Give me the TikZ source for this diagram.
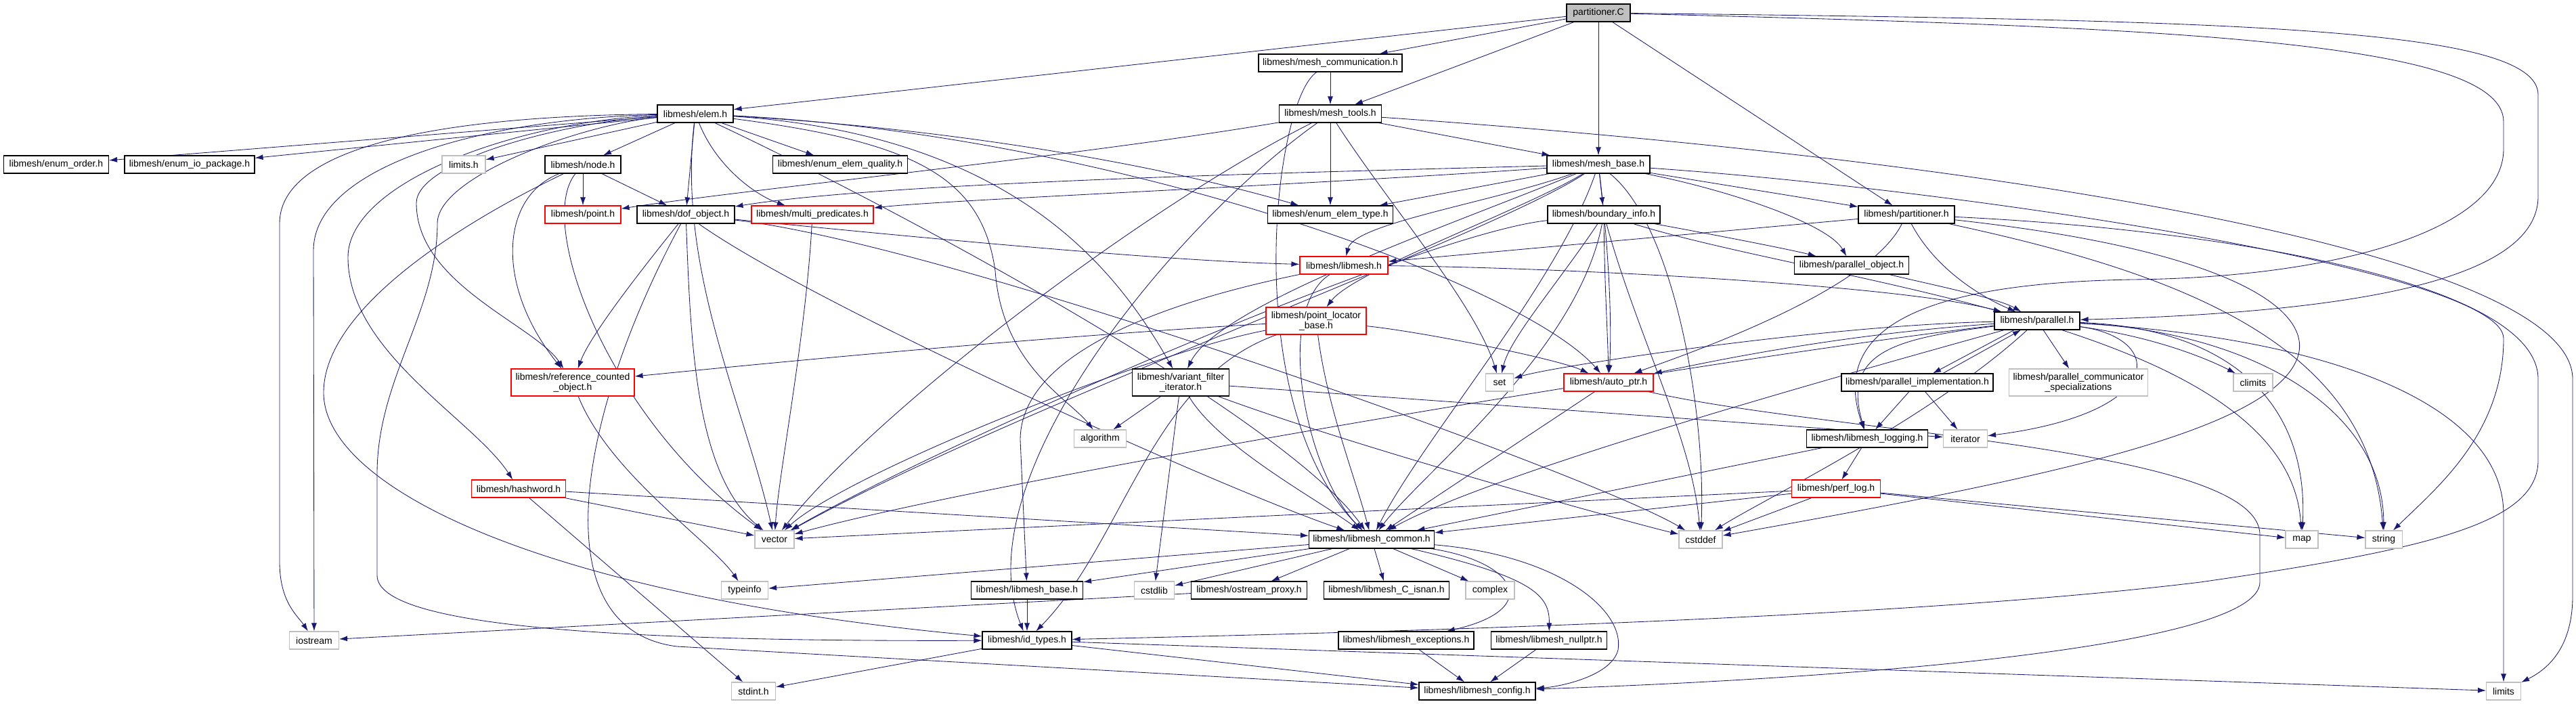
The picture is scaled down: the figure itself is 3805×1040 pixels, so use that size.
\documentclass[tikz,border=0pt]{standalone}
\usepackage{fontspec}
\setmainfont{Liberation Sans}
\usetikzlibrary{arrows.meta,backgrounds}
\definecolor{edgec}{HTML}{191970}
\definecolor{gbord}{HTML}{BFBFBF}
\definecolor{rootf}{HTML}{BFBFBF}
\begin{document}
\begin{tikzpicture}[x=1pt,y=-1pt,
  nb/.style={draw=black, line width=1.1pt, fill=white, inner sep=0pt, minimum height=26pt, font=\fontsize{14}{15}\selectfont, text=black},
  rb/.style={nb, draw=red},
  gb/.style={nb, draw=gbord, line width=1.1pt},
  tb/.style={minimum height=40pt, align=center},
  edge/.style={draw=edgec, line width=0.85pt, -{Latex[length=12pt,width=8pt]}}]
\useasboundingbox (0,0) rectangle (3805,1040);
% nodes
\node[nb, fill=rootf, minimum width=94pt] (pc) at (2361,19) {partitioner.C};
\node[nb, minimum width=212pt] (mc) at (1965,93) {libmesh/mesh\_communication.h};
\node[nb, minimum width=112pt] (el) at (1027,168) {libmesh/elem.h};
\node[nb, minimum width=151pt] (mt) at (1965,168) {libmesh/mesh\_tools.h};
\node[nb, minimum width=155pt] (eo) at (83,243) {libmesh/enum\_order.h};
\node[nb, minimum width=192pt] (eio) at (280,243) {libmesh/enum\_io\_package.h};
\node[gb, minimum width=64pt] (limh) at (685,243) {limits.h};
\node[nb, minimum width=112pt] (nd) at (861,243) {libmesh/node.h};
\node[nb, minimum width=199pt] (eeq) at (1241,243) {libmesh/enum\_elem\_quality.h};
\node[nb, minimum width=152pt] (mb) at (2361,243) {libmesh/mesh\_base.h};
\node[rb, minimum width=112pt] (pt) at (861,317) {libmesh/point.h};
\node[nb, minimum width=144pt] (dof) at (1013,317) {libmesh/dof\_object.h};
\node[rb, minimum width=180pt] (mp) at (1200,317) {libmesh/multi\_predicates.h};
\node[nb, minimum width=185pt] (eet) at (1965,317) {libmesh/enum\_elem\_type.h};
\node[nb, minimum width=166pt] (bi) at (2369,317) {libmesh/boundary\_info.h};
\node[nb, minimum width=142pt] (ph) at (2816,317) {libmesh/partitioner.h};
\node[rb, minimum width=130pt] (lm) at (1985,392) {libmesh/libmesh.h};
\node[nb, minimum width=169pt] (po) at (2735,392) {libmesh/parallel\_object.h};
\node[rb, tb, minimum width=148pt] (plb) at (1944,474) {libmesh/point\_locator\\\_base.h};
\node[nb, minimum width=126pt] (par) at (3009,474) {libmesh/parallel.h};
\node[rb, tb, minimum width=182pt] (rco) at (846,565) {libmesh/reference\_counted\\\_object.h};
\node[nb, tb, minimum width=143pt] (vfi) at (1744,565) {libmesh/variant\_filter\\\_iterator.h};
\node[gb, minimum width=41pt] (set) at (2215,565) {set};
\node[rb, minimum width=132pt] (ap) at (2376,565) {libmesh/auto\_ptr.h};
\node[nb, minimum width=224pt] (pimpl) at (2832,565) {libmesh/parallel\_implementation.h};
\node[gb, tb, minimum width=205pt] (pcs) at (3070,565) {libmesh/parallel\_communicator\\\_specializations};
\node[gb, minimum width=58pt] (climits) at (3328,565) {climits};
\node[gb, minimum width=77pt] (alg) at (1625,648) {algorithm};
\node[nb, minimum width=179pt] (log) at (2758,648) {libmesh/libmesh\_logging.h};
\node[gb, minimum width=65pt] (iter) at (2903,648) {iterator};
\node[rb, minimum width=139pt] (hw) at (766,722) {libmesh/hashword.h};
\node[rb, minimum width=131pt] (perf) at (2712,722) {libmesh/perf\_log.h};
\node[gb, minimum width=58pt] (vec) at (1144,797) {vector};
\node[nb, minimum width=185pt] (com) at (2026,797) {libmesh/libmesh\_common.h};
\node[gb, minimum width=64pt] (cstddef) at (2512,797) {cstddef};
\node[gb, minimum width=48pt] (map) at (3400,797) {map};
\node[gb, minimum width=54pt] (str) at (3521,797) {string};
\node[gb, minimum width=69pt] (typeinfo) at (1100,872) {typeinfo};
\node[nb, minimum width=165pt] (lbase) at (1517,872) {libmesh/libmesh\_base.h};
\node[gb, minimum width=59pt] (cstdlib) at (1705,872) {cstdlib};
\node[nb, minimum width=171pt] (osp) at (1845,872) {libmesh/ostream\_proxy.h};
\node[nb, minimum width=185pt] (isnan) at (2048,872) {libmesh/libmesh\_C\_isnan.h};
\node[gb, minimum width=72pt] (complex) at (2201,872) {complex};
\node[gb, minimum width=73pt] (ios) at (464,946) {iostream};
\node[nb, minimum width=132pt] (id) at (1517,946) {libmesh/id\_types.h};
\node[nb, minimum width=200pt] (exc) at (2077,946) {libmesh/libmesh\_exceptions.h};
\node[nb, minimum width=171pt] (nptr) at (2288,946) {libmesh/libmesh\_nullptr.h};
\node[gb, minimum width=65pt] (stdint) at (1113,1021) {stdint.h};
\node[nb, minimum width=172pt] (cfg) at (2182,1021) {libmesh/libmesh\_config.h};
\node[gb, minimum width=51pt] (lim) at (3698,1021) {limits};
\begin{scope}[on background layer]
% partitioner.C
\draw[edge] (pc) -- (el);
\draw[edge] (pc) -- (mc);
\draw[edge] (pc) -- (mt);
\draw[edge] (pc) -- (mb);
\draw[edge] (pc) -- (ph);
\draw[edge] (pc) .. controls (3300,30) and (3749,40) .. (3749,140) -- (3749,290) .. controls (3749,420) and (3450,462) .. (par);
\draw[edge] (pc) .. controls (3200,40) and (3698,60) .. (3698,180) -- (3698,220) .. controls (3698,340) and (3450,410) .. (3150,413) .. controls (2850,418) and (2700,480) .. (log);
% mesh_communication
\draw[edge] (mc) -- (mt);
\draw[edge] (mc) .. controls (1880,150) and (1830,600) .. (com);
% elem
\draw[edge] (el) -- (eo);
\draw[edge] (el) -- (eio);
\draw[edge] (el) -- (limh);
\draw[edge] (el) -- (nd);
\draw[edge] (el) -- (eeq);
\draw[edge] (el) -- (dof);
\draw[edge] (el) .. controls (1060,250) and (1120,290) .. (mp);
\draw[edge] (el) .. controls (1400,190) and (1700,240) .. (eet);
\draw[edge] (el) .. controls (600,172) and (413,230) .. (413,330) -- (413,830) .. controls (413,890) and (440,910) .. (ios);
\draw[edge] (el) .. controls (700,176) and (463,250) .. (463,370) -- (ios);
\draw[edge] (el) .. controls (760,180) and (514,270) .. (514,380) .. controls (514,520) and (700,620) .. (hw);
\draw[edge] (el) .. controls (820,182) and (615,240) .. (615,300) .. controls (615,420) and (790,480) .. (rco);
\draw[edge] (el) .. controls (860,184) and (646,260) .. (646,330) .. controls (646,460) and (557,560) .. (557,700) -- (557,850) .. controls (557,925) and (900,948) .. (id);
\draw[edge] (el) .. controls (1000,400) and (1100,600) .. (vec);
\draw[edge] (el) .. controls (1350,210) and (1450,260) .. (1470,400) .. controls (1480,540) and (1580,590) .. (alg);
\draw[edge] (el) .. controls (1500,200) and (1650,400) .. (vfi);
\draw[edge] (el) .. controls (1650,200) and (2250,420) .. (ap);
\draw[edge] (el) .. controls (1350,320) and (1900,620) .. (com);
% node
\draw[edge] (nd) -- (pt);
\draw[edge] (nd) -- (dof);
\draw[edge] (nd) .. controls (740,290) and (730,420) .. (rco);
\draw[edge] (nd) .. controls (790,330) and (900,620) .. (vec);
\draw[edge] (nd) .. controls (700,320) and (478,450) .. (478,580) .. controls (478,720) and (800,880) .. (id);
% dof_object
\draw[edge] (dof) .. controls (930,420) and (870,500) .. (rco);
\draw[edge] (dof) .. controls (1300,345) and (1700,385) .. (lm);
\draw[edge] (dof) .. controls (1020,500) and (1026,700) .. (vec);
\draw[edge] (dof) .. controls (1200,450) and (1800,720) .. (com);
\draw[edge] (dof) .. controls (1400,360) and (2350,700) .. (cstddef);
\draw[edge] (dof) .. controls (850,620) and (800,930) .. (1000,955) -- (cfg);
% multi_predicates
\draw[edge] (mp) .. controls (1190,500) and (1150,700) .. (vec);
% mesh_tools
\draw[edge] (mt) -- (mb);
\draw[edge] (mt) -- (eet);
\draw[edge] (mt) .. controls (1600,230) and (1100,280) .. (pt);
\draw[edge] (mt) .. controls (2050,300) and (2180,450) .. (set);
\draw[edge] (mt) .. controls (1700,300) and (1300,600) .. (vec);
\draw[edge] (mt) .. controls (1750,320) and (1420,700) .. (id);
\draw[edge] (mt) .. controls (3000,240) and (3800,380) .. (3800,560) -- (3800,880) .. controls (3800,960) and (3760,990) .. (lim);
% mesh_base
\draw[edge] (mb) -- (eet);
\draw[edge] (mb) -- (bi);
\draw[edge] (mb) -- (ph);
\draw[edge] (mb) .. controls (2550,280) and (2700,330) .. (po);
\draw[edge] (mb) .. controls (2250,310) and (2000,400) .. (plb);
\draw[edge] (mb) .. controls (1900,255) and (1300,270) .. (dof);
\draw[edge] (mb) .. controls (1900,275) and (1400,295) .. (mp);
\draw[edge] (mb) .. controls (2200,300) and (2000,330) .. (lm);
\draw[edge] (mb) .. controls (2150,330) and (1800,450) .. (vfi);
\draw[edge] (mb) .. controls (2200,350) and (1500,600) .. (vec);
\draw[edge] (mb) .. controls (2300,420) and (2100,650) .. (com);
\draw[edge] (mb) .. controls (2380,400) and (2380,500) .. (ap);
\draw[edge] (mb) .. controls (2470,330) and (2520,600) .. (cstddef);
\draw[edge] (mb) .. controls (2900,280) and (3698,400) .. (3698,500) .. controls (3698,640) and (3600,720) .. (str);
% boundary_info
\draw[edge] (bi) .. controls (2300,420) and (2230,500) .. (set);
\draw[edge] (bi) .. controls (2370,420) and (2375,500) .. (ap);
\draw[edge] (bi) .. controls (2550,350) and (2650,370) .. (po);
\draw[edge] (bi) .. controls (2330,520) and (2100,700) .. (com);
\draw[edge] (bi) .. controls (2420,500) and (2500,650) .. (cstddef);
\draw[edge] (bi) .. controls (2100,345) and (1400,650) .. (vec);
\draw[edge] (bi) .. controls (2700,420) and (3380,480) .. (map);
% partitioner.h
\draw[edge] (ph) -- (lm);
\draw[edge] (ph) .. controls (2760,430) and (2500,520) .. (ap);
\draw[edge] (ph) .. controls (2860,400) and (2930,440) .. (par);
\draw[edge] (ph) .. controls (3300,340) and (3749,420) .. (3749,560) -- (3749,680) .. controls (3749,770) and (3600,810) .. (3250,860) .. controls (2800,915) and (2000,935) .. (id);
\draw[edge] (ph) .. controls (3300,370) and (3420,460) .. (3393,530) .. controls (3350,640) and (3000,710) .. (cstddef);
\draw[edge] (ph) .. controls (3200,400) and (3500,500) .. (str);
% libmesh.h
\draw[edge] (lm) .. controls (2300,395) and (2800,420) .. (par);
\draw[edge] (lm) .. controls (1880,460) and (1930,700) .. (com);
\draw[edge] (lm) .. controls (1800,430) and (1507,500) .. (1507,650) -- (lbase);
% parallel_object
\draw[edge] (po) .. controls (2850,420) and (2950,440) .. (par);
% point_locator_base
\draw[edge] (plb) .. controls (1500,500) and (1100,540) .. (rco);
\draw[edge] (plb) .. controls (2100,490) and (2300,530) .. (ap);
\draw[edge] (plb) .. controls (1960,600) and (2000,700) .. (com);
\draw[edge] (plb) .. controls (1700,520) and (1250,700) .. (vec);
\draw[edge] (plb) .. controls (1700,560) and (1660,800) .. (id);
% parallel.h
\draw[edge] (par) .. controls (2700,480) and (2300,540) .. (set);
\draw[edge] (par) .. controls (2700,495) and (2500,540) .. (ap);
\draw[edge] ([xshift=-34pt]par.south) -- ([xshift=23pt]pimpl.north);
\draw[edge] ([xshift=38pt]pimpl.north) -- ([xshift=-24pt]par.south);
\draw[edge] (par) -- (pcs);
\draw[edge] (par) .. controls (3200,500) and (3280,540) .. (climits);
\draw[edge] (par) .. controls (3200,500) and (3200,610) .. (iter);
\draw[edge] (par) .. controls (3300,485) and (3410,600) .. (map);
\draw[edge] (par) .. controls (3320,490) and (3520,600) .. (str);
\draw[edge] (par) .. controls (3450,500) and (3698,600) .. (3698,760) -- (lim);
\draw[edge] (par) .. controls (2800,500) and (2720,520) .. (log);
\draw[edge] (par) .. controls (2700,560) and (2200,700) .. (com);
\draw[edge] (par) .. controls (2600,520) and (1500,700) .. (vec);
\draw[edge] (par) .. controls (2850,620) and (2600,740) .. (cstddef);
% parallel_implementation
\draw[edge] (pimpl) -- (log);
\draw[edge] (pimpl) -- (iter);
% libmesh_logging
\draw[edge] (log) -- (com);
\draw[edge] (log) -- (perf);
% perf_log
\draw[edge] (perf) -- (com);
\draw[edge] (perf) -- (vec);
\draw[edge] (perf) -- (cstddef);
\draw[edge] (perf) -- (map);
\draw[edge] (perf) -- (str);
% variant_filter_iterator
\draw[edge] (vfi) -- (alg);
\draw[edge] (vfi) -- (cstdlib);
\draw[edge] (vfi) .. controls (1800,660) and (1950,740) .. (com);
\draw[edge] (vfi) -- (iter);
\draw[edge] (vfi) .. controls (2000,660) and (2400,770) .. (cstddef);
% hashword
\draw[edge] (hw) -- (com);
\draw[edge] (hw) -- (vec);
\draw[edge] (hw) -- (stdint);
% reference_counted_object
\draw[edge] (rco) .. controls (900,700) and (1050,800) .. (typeinfo);
% libmesh_common
\draw[edge] (com) -- (typeinfo);
\draw[edge] (com) -- (lbase);
\draw[edge] (com) -- (cstdlib);
\draw[edge] (com) -- (osp);
\draw[edge] (com) -- (isnan);
\draw[edge] (com) -- (complex);
\draw[edge] (com) .. controls (2240,830) and (2280,900) .. (exc);
\draw[edge] (com) .. controls (2267,853) and (2289,880) .. (nptr);
\draw[edge] (com) .. controls (2300,820) and (2400,900) .. (2390,960) .. controls (2380,1000) and (2300,1015) .. (cfg);
% auto_ptr
\draw[edge] (ap) -- (com);
\draw[edge] (ap) .. controls (2700,640) and (3338,660) .. (3338,790) -- (3338,860) .. controls (3338,950) and (2800,1000) .. (cfg);
% rest
\draw[edge] (lbase) -- (id);
\draw[edge] (osp) -- (ios);
\draw[edge] (exc) -- (cfg);
\draw[edge] (nptr) -- (cfg);
\draw[edge] (id) -- (stdint);
\draw[edge] (id) -- (cfg);
\draw[edge] (id) -- (lim);
\end{scope}
\end{tikzpicture}
\end{document}
